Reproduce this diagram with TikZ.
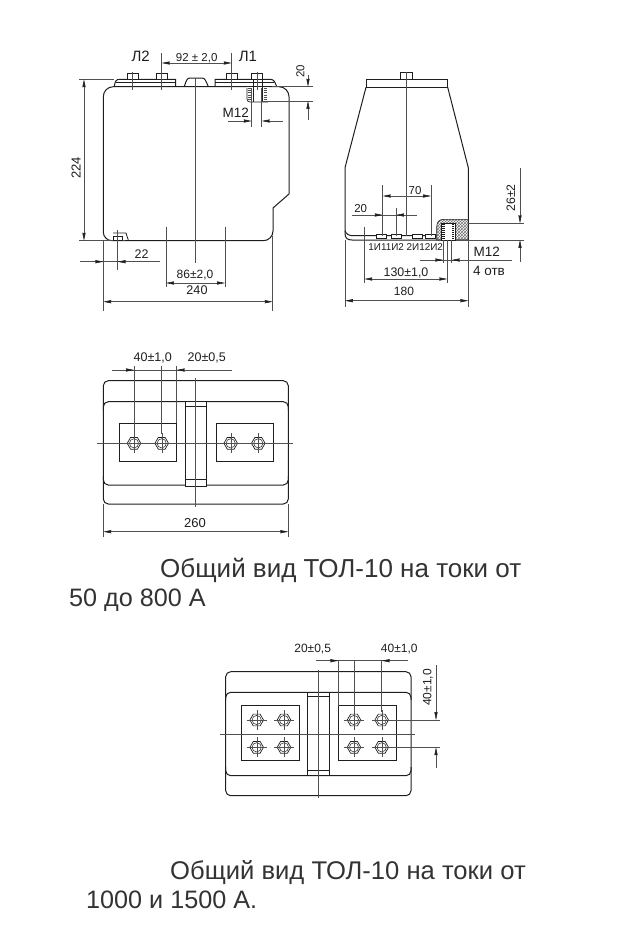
\documentclass[tikz,border=0pt]{standalone}
\usepackage{fontspec}
\setmainfont{Liberation Sans}
\usetikzlibrary{arrows.meta,patterns}
\definecolor{inkline}{RGB}{30,30,30}
\definecolor{dimline}{RGB}{80,80,80}
\def\Size{6.8pt}
\tikzset{
  tiphead/.tip={Stealth[length=8pt,width=3.2pt,inset=0.5pt,color=inkline,fill=inkline]},
  body/.style={draw=inkline,line width=1pt},
  thinline/.style={color=dimline,line width=0.55pt},
  tipline/.style={thinline,-tiphead},
  bothtip/.style={thinline,tiphead-tiphead},
  dimtext/.style={inner sep=0pt,font=\fontsize{12}{14}\selectfont,text=inkline},
  bigtext/.style={inner sep=0pt,anchor=base west,font=\fontsize{25.2}{28}\selectfont,text=black!80},
  hexnut/.pic={
    \draw[inkline,line width=0.7pt,fill=white] (0:\Size) -- (60:\Size) -- (120:\Size) -- (180:\Size) -- (240:\Size) -- (300:\Size) -- cycle;
    \draw[inkline,line width=0.5pt] (0,0) circle (4.6pt);
    \draw[dimline,line width=0.35pt] (-10,0) -- (10,0) (0,-10) -- (0,10);
  },
  topbolt/.pic={
    \draw[inkline,line width=0.7pt,fill=white] (-5.5,0) rectangle (5.5,-6);
    \draw[thinline] (0,-7) -- (0,11);
  },
}
\begin{document}
\begin{tikzpicture}[x=1pt,y=-1pt]
\useasboundingbox (0,0) rectangle (626,937);
% front view
\draw[body] (103.3,96.7) arc[start angle=180,end angle=270,radius=10] -- (279,86.7)
  arc[start angle=270,end angle=360,radius=10] -- (289,194) -- (273,208) -- (273,231)
  arc[start angle=0,end angle=90,radius=9.7] -- (112,240.7)
  arc[start angle=90,end angle=180,radius=8.7] -- cycle;
\draw[body] (114.3,86.7) .. controls (115,81) and (116,79.3) .. (120,79.3) -- (175.7,79.3) -- (175.7,86.7);
\draw[body,line width=0.7pt] (116,82) -- (175.7,82);
\draw[body] (184.3,86.7) .. controls (186,81) and (187,78) .. (190,78) -- (202,78) .. controls (205,78) and (206,81) .. (208.3,86.7);
\draw[body] (215,86.7) -- (215,79.3) -- (270,79.3) .. controls (274,79.3) and (275,82) .. (276.7,86.7);
\draw[body,line width=0.7pt] (215,82) -- (274,82);
\draw[fill=white,draw=white] (247,87.6) rectangle (268,102);
\draw[body,line width=0.7pt,rounded corners=3pt] (247,88) -- (247,102) -- (268,102);
\draw[dimline,line width=2.4pt,dash pattern=on 1pt off 1.2pt] (249.5,88) -- (249.5,101) (265.5,88) -- (265.5,101);
\draw[inkline,line width=0.7pt] (253,80) -- (253,102) (262,80) -- (262,102);
\foreach \px/\pn in {132.7/a,161.7/b,231.7/c,257.3/d}
  \pic (bolt\pn) at (\px,79.3) {topbolt};
\draw[thinline] (195,78) -- (195,263);
\draw[thinline] (161.7,53) -- (161.7,73) (231.7,53) -- (231.7,73);
\draw[bothtip] (161.7,63) -- (231.7,63);
\node[dimtext,font=\fontsize{11.5}{14}\selectfont] (dimbolts) at (196.7,58) {92 ± 2,0};
\node[dimtext,font=\fontsize{15}{16}\selectfont] (labelltwo) at (140.7,56.5) {Л2};
\node[dimtext,font=\fontsize{15}{16}\selectfont] (labellone) at (248,56.5) {Л1};
\draw[thinline] (79,79.3) -- (114,79.3) (79,240.7) -- (125,240.7);
\draw[bothtip] (84,79.3) -- (84,240.7);
\node[dimtext,font=\fontsize{13}{14}\selectfont,rotate=90] (dimheight) at (76,168) {224};
\draw[thinline] (272,86.7) -- (313,86.7) (262,101) -- (313,101);
\draw[tipline] (308,75) -- (308,86.7);
\draw[tipline] (308,120) -- (308,101);
\node[dimtext,rotate=90,font=\fontsize{11.5}{14}\selectfont] (dimtwenty) at (300.5,71.5) {20};
\draw[thinline] (251.7,88) -- (251.7,127) (261.7,88) -- (261.7,127);
\draw[tipline] (228,121) -- (251.7,121);
\draw[tipline] (283,121) -- (261.7,121);
\node[dimtext,font=\fontsize{13.5}{14}\selectfont] (dimthread) at (235.7,113) {М12};
\draw[inkline,line width=0.7pt] (113,236.5) rectangle (122,240.7);
\draw[inkline,line width=0.8pt] (113,233) -- (126,233) -- (128.5,240.7);
\draw[thinline] (117.7,230) -- (117.7,270);
\draw[thinline] (80,261.7) -- (160,261.7);
\draw[tipline] (88,261.7) -- (103.3,261.7);
\draw[tipline] (134,261.7) -- (117.7,261.7);
\node[dimtext,font=\fontsize{12.5}{14}\selectfont] (dimfoot) at (141.7,254) {22};
\draw[thinline] (166,226.7) -- (166,287) (225,226.7) -- (225,287);
\draw[bothtip] (166,283) -- (225,283);
\node[dimtext] (dimfeet) at (195,275) {86±2,0};
\draw[thinline] (103.3,240.7) -- (103.3,311) (272.7,236) -- (272.7,311);
\draw[bothtip] (103.3,301.7) -- (272.7,301.7);
\node[dimtext,font=\fontsize{12.6}{14}\selectfont] (dimwidth) at (197,290) {240};
% side view
\draw[body] (366,79) rectangle (447.7,87.3);
\draw[inkline,line width=0.7pt,fill=white] (400.7,72.7) rectangle (412.3,79);
\draw[body] (366,87.3) -- (345,167.7) -- (345,233) .. controls (345,238) and (347,240) .. (352,240) -- (468.3,240) -- (468.3,167.7) -- (447.7,87.3);
\draw[body] (345,230.7) .. controls (346,234) and (349,235.7) .. (353,235.7) -- (436.7,235.7);
\draw[inkline,line width=0.6pt,pattern=crosshatch,pattern color=black!55] (468.3,240) -- (468.3,219.3) -- (444,219.3) .. controls (439,219.3) and (436.7,222) .. (436.7,227) -- (436.7,240) -- cycle;
\draw[fill=white,draw=inkline,line width=0.7pt] (441.7,223.3) rectangle (455,240);
\draw[inkline,line width=2.2pt,dash pattern=on 1pt off 1pt] (443.5,224) -- (443.5,240) (453.3,224) -- (453.3,240);
\foreach \px/\pn in {381.7/a,396/b,417.3/c,430.7/d}
  \draw[inkline,line width=0.7pt,fill=white] (\px-5,234) rectangle (\px+5,238.5);
\draw[thinline] (406.7,72) -- (406.7,236);
\draw[thinline] (382.7,185) -- (382.7,236) (431,185) -- (431,236) (396,208) -- (396,236);
\draw[bothtip] (382.7,196) -- (431,196);
\node[dimtext,font=\fontsize{11.5}{14}\selectfont] (dimpitch) at (415,190.5) {70};
\draw[thinline] (351.7,215) -- (417,215);
\draw[tipline] (371,215) -- (382.7,215);
\draw[tipline] (408,215) -- (396,215);
\node[dimtext,font=\fontsize{11.5}{14}\selectfont] (dimstep) at (360.7,208.5) {20};
\node[dimtext,font=\fontsize{9.9}{10}\selectfont] (labelcoils) at (405.7,247.5) {1И11И2 2И12И2};
\draw[thinline] (364.3,226.7) -- (364.3,283) (447.3,240) -- (447.3,283);
\draw[bothtip] (364.3,279) -- (447.3,279);
\node[dimtext,font=\fontsize{12.4}{14}\selectfont] (dimholes) at (406,272.5) {130±1,0};
\draw[thinline] (345,240) -- (345,307) (468.3,240) -- (468.3,307);
\draw[bothtip] (345,300.7) -- (468.3,300.7);
\node[dimtext] (dimdepth) at (404,291.5) {180};
\draw[thinline] (443.3,240) -- (443.3,263) (451.7,240) -- (451.7,263);
\draw[thinline] (420,260) -- (511.7,260);
\draw[tipline] (431,260) -- (443.3,260);
\draw[tipline] (464,260) -- (451.7,260);
\node[dimtext,font=\fontsize{13.5}{14}\selectfont] (dimsidethread) at (486.7,251.5) {М12};
\node[dimtext,font=\fontsize{13.5}{14}\selectfont] (dimholecount) at (489,270.5) {4 отв};
\draw[thinline] (468,223.3) -- (524,223.3) (468,240) -- (524,240);
\draw[tipline] (520,167.7) -- (520,223.3);
\draw[tipline] (520,261.7) -- (520,240);
\node[dimtext,font=\fontsize{12.3}{14}\selectfont,rotate=90] (dimbase) at (511,198) {26±2};
% plan 50-800 A
\draw[body,rounded corners=5pt] (103.3,380.7) rectangle (288.3,504);
\draw[body,rounded corners=5pt] (103.3,410) -- (103.3,401.7) -- (288.3,401.7) -- (288.3,410);
\draw[body,rounded corners=5pt] (103.3,476) -- (103.3,485) -- (288.3,485) -- (288.3,476);
\draw[body,fill=white] (185,401.7) rectangle (206.7,486);
\draw[body,line width=0.7pt] (185,406) -- (206.7,406) (185,479.3) -- (206.7,479.3);
\draw[body,fill=white] (119,423.3) rectangle (176.7,461.7);
\draw[body,fill=white] (216,423.3) rectangle (273.3,461.7);
\draw[thinline] (96.7,443.3) -- (293.3,443.3);
\draw[thinline] (195.7,378) -- (195.7,506.7);
\foreach \px/\pn in {134/a,161.7/b,230.7/c,258.3/d}
  \pic (nut\pn) at (\px,443.3) {hexnut};
\draw[thinline] (134,366) -- (134,434) (161.7,366) -- (161.7,434) (176.7,366) -- (176.7,423.3);
\draw[thinline] (112,370) -- (231.7,370);
\draw[tipline] (122,370) -- (134,370);
\draw[tipline] (188,370) -- (176.7,370);
\node[dimtext,font=\fontsize{12.5}{14}\selectfont] (dimnuts) at (152.7,358) {40±1,0};
\node[dimtext,font=\fontsize{12.5}{14}\selectfont] (dimgap) at (206.7,358) {20±0,5};
\draw[thinline] (103.3,504) -- (103.3,536.7) (288.3,504) -- (288.3,536.7);
\draw[bothtip] (103.3,531.7) -- (288.3,531.7);
\node[dimtext,font=\fontsize{13}{14}\selectfont] (dimlength) at (195,523) {260};
% plan 1000-1500 A
\draw[body,rounded corners=5pt] (225.7,671.7) rectangle (411,795.7);
\draw[body,rounded corners=5pt] (225.7,700) -- (225.7,692.3) -- (411,692.3) -- (411,700);
\draw[body,rounded corners=5pt] (225.7,767) -- (225.7,775.7) -- (411,775.7) -- (411,767);
\draw[body,fill=white] (307.7,692.3) rectangle (329.3,775.7);
\draw[body,line width=0.7pt] (307.7,696.7) -- (329.3,696.7) (307.7,770) -- (329.3,770);
\draw[body,fill=white] (241.7,705.7) rectangle (299,760.7);
\draw[body,fill=white] (338.3,705.7) rectangle (396,760.7);
\draw[thinline] (220,734) -- (415,734);
\draw[thinline] (318.3,670) -- (318.3,798.3);
\foreach \px/\pn in {256.7/a,284/b,354/c,381.7/d}{
  \pic (upper\pn) at (\px,720) {hexnut};
  \pic (lower\pn) at (\px,747.3) {hexnut};
}
\draw[thinline] (338.3,660) -- (338.3,705.7) (354,660) -- (354,712) (381.7,660) -- (381.7,712);
\draw[thinline] (316,660.7) -- (408,660.7);
\draw[tipline] (326,660.7) -- (338.3,660.7);
\draw[tipline] (394,660.7) -- (381.7,660.7);
\node[dimtext] (dimgaptwo) at (312.7,649) {20±0,5};
\node[dimtext] (dimnutstwo) at (399.3,649) {40±1,0};
\draw[thinline] (390,720) -- (440,720) (390,747.3) -- (440,747.3);
\draw[tipline] (436,665) -- (436,720);
\draw[tipline] (436,768) -- (436,747.3);
\node[dimtext,rotate=90] (dimnutsside) at (428,687.5) {40±1,0};
% captions
\node[bigtext,font=\fontsize{26}{28}\selectfont] (captionone) at (160,577) {Общий вид ТОЛ-10 на токи от};
\node[bigtext] (captiononeb) at (69,606) {50 до 800 А};
\node[bigtext,font=\fontsize{25.6}{28}\selectfont] (captiontwo) at (170,879) {Общий вид ТОЛ-10 на токи от};
\node[bigtext] (captiontwob) at (86,908) {1000 и 1500 А.};
\end{tikzpicture}
\end{document}
